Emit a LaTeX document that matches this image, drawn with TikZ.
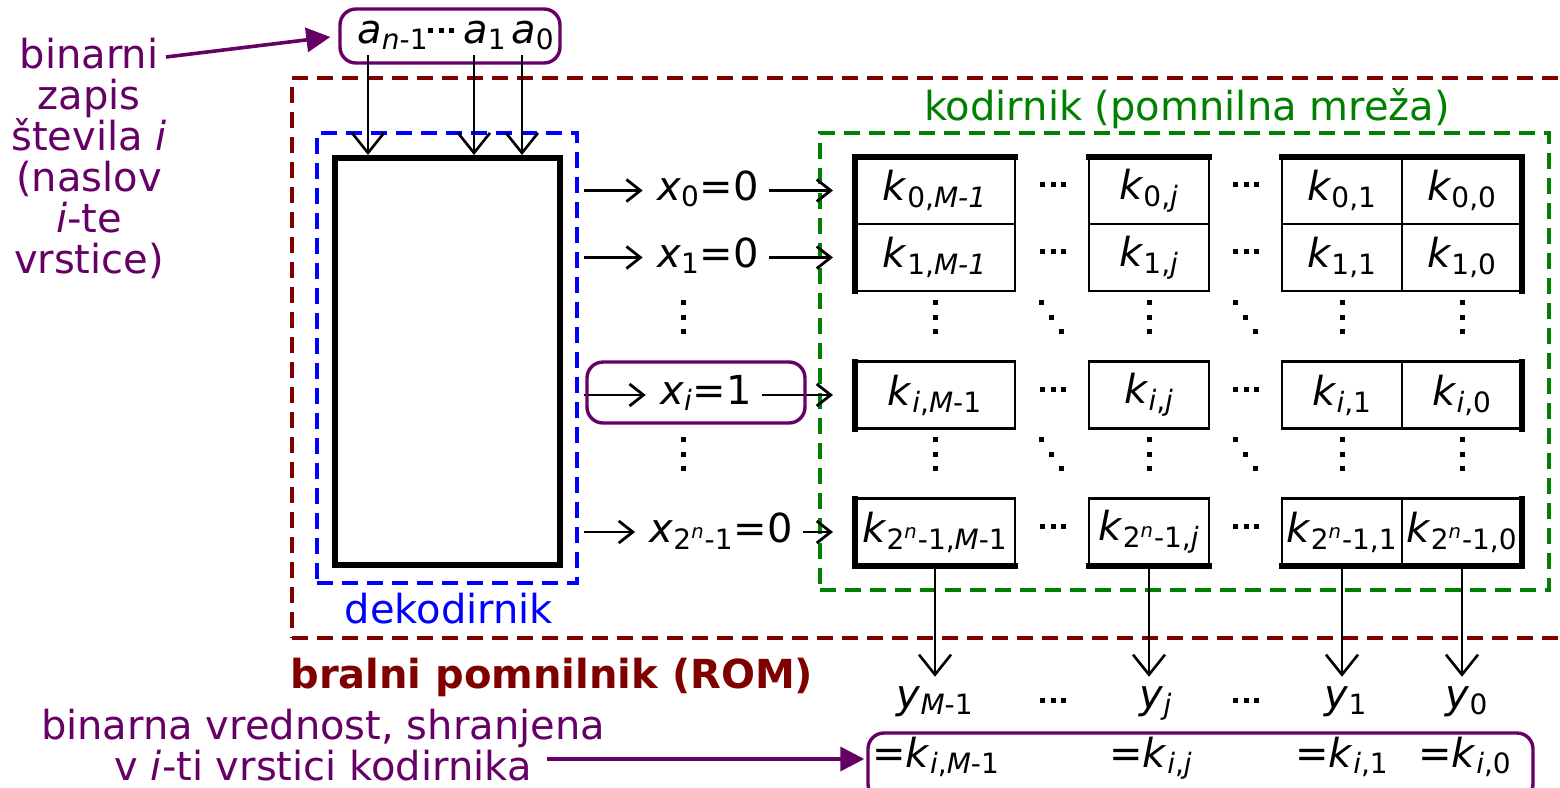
\documentclass[tikz,border=0pt]{standalone}
\usepackage{fontspec}
\setmainfont{DejaVu Sans}
\usetikzlibrary{positioning,arrows.meta,calc}
\definecolor{lpurple}{RGB}{102,0,102}
\definecolor{romred}{RGB}{128,0,0}
\definecolor{kodgreen}{RGB}{0,128,0}
\newcommand{\vi}[1]{\textit{#1}}
\newcommand{\sub}[1]{\textsubscript{#1}}

\begin{document}
\begin{tikzpicture}[
  x=0.5pt, y=-0.5pt,
  txt/.style={inner sep=0pt, font=\fontsize{20}{20.5}\selectfont},
  cell/.style={draw, line width=1.3pt, inner sep=0pt, outer sep=0pt,
    minimum width=60pt, minimum height=33.5pt, font=\fontsize{20}{20.5}\selectfont},
  wcell/.style={cell, minimum width=80pt},
  thk/.style={line width=3pt, line cap=rect},
  dbox/.style={draw, line width=1.6pt, dash pattern=on 8pt off 4.5pt, inner sep=0pt},
  pbox/.style={draw=lpurple, line width=1.7pt, rounded corners=8pt, inner sep=0pt},
  arr/.style={-{Straight Barb[length=10pt,width=16pt]}, line width=1.3pt},
  rarr/.style={-{Straight Barb[length=7pt,width=11pt]}, line width=1.4pt},
  parr/.style={-{Triangle[length=12pt,width=12pt]}, line width=1.8pt, lpurple},
  hdots/.pic={\foreach \k in {-1,0,1} \fill (\k*10.5-2.5,-2.5) rectangle ++(5,5);},
  vdots/.pic={\foreach \k in {-1,0,1} \fill (-2.5,\k*14.5-2.5) rectangle ++(5,5);},
  ddots/.pic={\foreach \k in {-1,0,1} \fill (\k*10-2.5,\k*14.5-2.5) rectangle ++(5,5);}
]
\useasboundingbox (0,0) rectangle (1560,788);

% ROM, dekodirnik, kodirnik
\node[dbox, draw=romred, minimum width=639pt, minimum height=280pt] (rom) at (931,358) {};
\node[dbox, draw=blue, minimum width=130pt, minimum height=225pt] (dek) at (447,358) {};
\node[dbox, draw=kodgreen, minimum width=364.5pt, minimum height=228.5pt] (kod) at (1184.5,361.5) {};
\node[draw, line width=3pt, inner sep=0pt, minimum width=112.5pt, minimum height=203.5pt] (dec) at (447.5,361.5) {};

\node[txt, text=kodgreen, anchor=base] (kodlbl) at (1187,120) {kodirnik (pomnilna mreža)};
\node[txt, text=blue, anchor=base] (deklbl) at (449,623) {dekodirnik};
\node[txt, text=romred, font=\fontsize{20}{20.5}\selectfont\bfseries, anchor=base west] (romlbl) at (290,688) {bralni pomnilnik (ROM)};

% naslov
\node[pbox, minimum width=110pt, minimum height=27pt] (abox) at (450,36) {};
\node[txt, anchor=base west] (an) at (357,43) {\vi{a}\sub{\vi{n}-1}};
\pic at (441,30) {hdots};
\node[txt, anchor=base west] (a1) at (463,43) {\vi{a}\sub{1}};
\node[txt, anchor=base west] (a0) at (511,43) {\vi{a}\sub{0}};
\foreach \a in {an,a1,a0}
  \draw[arr] ([xshift=5.5pt,yshift=-6pt]\a.base west) -- ([xshift=5.5pt]\a.base west |- dec.north);

\node[txt, text=lpurple, align=center, anchor=north] (addr) at (89,38)
  {binarni\\zapis\\števila \vi{i}\\(naslov\\\vi{i}-te\\vrstice)};
\coordinate (addr-out) at (166,57);
\draw[parr, shorten >=4pt] (addr-out) -- (abox.west);

% vrstice kodirnika
\foreach \rid/\ry/\rsub/\rmm in {0/190.5/0/\vi{M-1}, 1/257.5/1/\vi{M-1},
    i/395/\vi{i}/\vi{M}-1, l/532/2\textsuperscript{\vi{n}}-1/\vi{M}-1} {
  \node[wcell] (k\rid m) at (935,\ry) {\vi{k}\sub{\rsub,\rmm}};
  \node[cell] (k\rid j) at (1149,\ry) {\vi{k}\sub{\rsub,\vi{j}}};
  \node[cell] (k\rid 1) at (1342,\ry) {\vi{k}\sub{\rsub,1}};
  \node[cell] (k\rid 0) at (1462,\ry) {\vi{k}\sub{\rsub,0}};
  \pic at (1053,\ry-6) {hdots};
  \pic at (1246,\ry-6) {hdots};
  \draw[thk] (k\rid m.north west) -- (k\rid m.south west);
  \draw[thk] (k\rid 0.north east) -- (k\rid 0.south east);
}
\foreach \c in {m,j,1,0} {
  \draw[thk] (k0\c.north west) -- (k0\c.north east);
  \draw[thk] (kl\c.south west) -- (kl\c.south east);
}

\node[txt, anchor=base] (x0) at (708,200) {\vi{x}\sub{0}=0};
\node[txt, anchor=base] (x1) at (708,267) {\vi{x}\sub{1}=0};
\node[txt, anchor=base] (xi) at (706,404) {\vi{x}\sub{\vi{i}}=1};
\node[txt, anchor=base] (xl) at (721,542) {\vi{x}\sub{2\textsuperscript{\vi{n}}-1}=0};
\foreach \rid in {0,1,i,l} {
  \draw[rarr, shorten <=2.5pt, shorten >=7pt] (dek.east |- k\rid m) -- (x\rid.west |- k\rid m);
  \draw[rarr, shorten <=5pt, shorten >=11pt] (x\rid.east |- k\rid m) -- (k\rid m.west);
}
\node[pbox, minimum width=109pt, minimum height=30.5pt] (xibox) at (696,392.5) {};

\foreach \xx in {683,935,1149,1342,1462}
  \foreach \yy in {317,454} \pic at (\xx,\yy) {vdots};
\foreach \xx in {1051,1245}
  \foreach \yy in {317,454} \pic at (\xx,\yy) {ddots};

% izhodi
\foreach \c/\xl/\lab in {m/935/\vi{M}-1, j/1156/\vi{j}, 1/1346/1, 0/1467/0} {
  \node[txt, anchor=base] (y\c) at (\xl,708) {\vi{y}\sub{\lab}};
  \draw[arr, shorten >=4.5pt] (kl\c.south) -- (kl\c.south |- y\c.north);
}
\pic at (1053,700) {hdots};
\pic at (1246,700) {hdots};

\node[pbox, minimum width=332.5pt, minimum height=33.5pt] (kval) at (1200.5,766.5) {};
\foreach \c/\xl/\lab in {m/936/\vi{M}-1, j/1151/\vi{j}, 1/1342/1, 0/1465/0}
  \node[txt, anchor=base] (e\c) at (\xl,767) {=\vi{k}\sub{\vi{i},\lab}};

\node[txt, text=lpurple, align=center, anchor=north] (vallbl) at (323,709)
  {binarna vrednost, shranjena\\v \vi{i}-ti vrstici kodirnika};
\coordinate (vallbl-out) at (547,759);
\draw[parr, shorten >=1pt] (vallbl-out) -- (vallbl-out -| kval.west);
\end{tikzpicture}
\end{document}
